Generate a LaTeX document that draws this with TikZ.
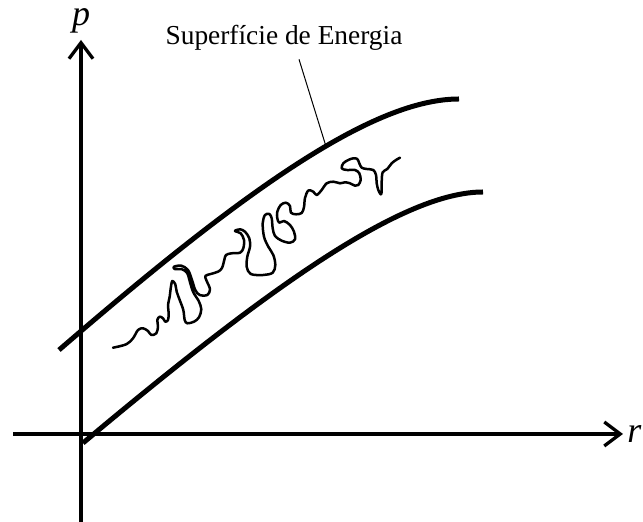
\documentclass[tikz,border=0pt]{standalone}
\usepackage{fontspec}
\setmainfont{Liberation Serif}
\usetikzlibrary{arrows.meta}

\begin{document}
\begin{tikzpicture}[x=0.5pt, y=-0.5pt,
  axis/.style={line width=1.65pt, -{Straight Barb[length=8pt,width=12pt]}},
  shell/.style={line width=2.5pt},
  orbit/.style={line width=1.25pt, line join=round, line cap=round},
  varlbl/.style={font=\fontsize{18}{20}\selectfont\itshape, inner sep=0pt}]
  \useasboundingbox (0,0) rectangle (643,522);
  % ejes
  \coordinate (x0) at (13,434);
  \coordinate (x1) at (623,434);
  \coordinate (y0) at (81,522);
  \coordinate (y1) at (81,40);
  \draw[axis] (x0) -- (x1);
  \draw[axis] (y0) -- (y1);
  \node[varlbl, anchor=west] (r) at ([xshift=2pt]x1) {r};
  \node[varlbl, anchor=south] (p) at ([yshift=3pt]y1) {p};
  % superficie de energia
  \draw[shell] (59,350) .. controls (250,185) and (375,99) .. (459,99) coordinate[pos=0.57] (touch);
  \draw[shell] (83,443) .. controls (274,283) and (404,192) .. (483,192);
  \node[font=\fontsize{13.7}{16}\selectfont, anchor=base, inner sep=4pt] (surf) at (284,45) {Superfície de Energia};
  \draw[line width=0.5pt] ([xshift=7.5pt]surf.south) -- (touch);
  % trayectoria
  \draw[orbit] plot[smooth, tension=0.55] coordinates {
    (113,347.7) (126.3,344.3) (133,338.3) (138,330) (143,328.3) (148,331) (151.3,335)
    (156.3,333.3) (158,326.7) (157.3,320) (159.7,316.7) (163,318.3) (165.3,321.7) (168,320)
    (168.7,313.3) (168,305) (169.7,296.7) (170.7,288.3) (172.3,281) (175.3,284.3) (176.7,291.7)
    (179.7,300) (183.3,310) (184.7,320) (187.3,323.3) (194,321.7) (199,317.3) (201.3,309.3)
    (198.7,301) (193.3,292.3) (190,282.3) (187.3,273.3) (182,269.3) (174.7,269) (174,266.7)
    (181.3,265.7) (188,270) (192,280) (195.3,290) (199.7,295) (207.3,295) (210,289.3)
    (206.7,281) (205.3,276) (210.7,274) (218,271.7) (222,268) (224.3,260) (226,255)
    (231.7,253.3) (240,252.7) (243.3,248.3) (244,240) (240.7,233.3) (235,231) (240,229.3)
    (245,231.7) (249.3,238.3) (250,246.7) (247.3,256.7) (246.7,266.7) (250.7,274) (263.3,275)
    (272.7,272.7) (275.3,265) (273.3,255) (268.3,246.7) (264,236.7) (262.7,223.3) (265,215)
    (269.3,214) (271.7,218.3) (272.7,228.3) (275,236) (281.7,240.7) (290,242.7) (295,239.3)
    (294,231.7) (290,225) (284,221) (279.3,222.7) (277.3,218.3) (277.3,211.7) (280.7,205)
    (286,202.7) (290,206) (291,212.7) (296,214.3) (301.7,213) (304,207) (305,198)
    (308.3,190.5) (313.3,191.7) (316.7,195) (321.7,190) (326.7,183.3) (333.3,181.7) (340,183.3)
    (345,182.3) (350,183.3) (355,185.7) (358.3,185) (360.7,180) (359.3,173.3) (355,170)
    (346.7,170) (341.7,168.3) (343.3,163.3) (348.3,160) (353.3,158.3) (357.3,159) (359.3,163.3)
    (361.7,167.7) (366.7,169) (373.3,170) (376,175) (376.7,183.3) (378.3,190) (380.7,194.3)
    (381.7,191.7) (381.7,181.7) (382.7,172.3) (387.3,169) (391.7,163.3) (396,160) (400,157.7)};
\end{tikzpicture}
\end{document}
